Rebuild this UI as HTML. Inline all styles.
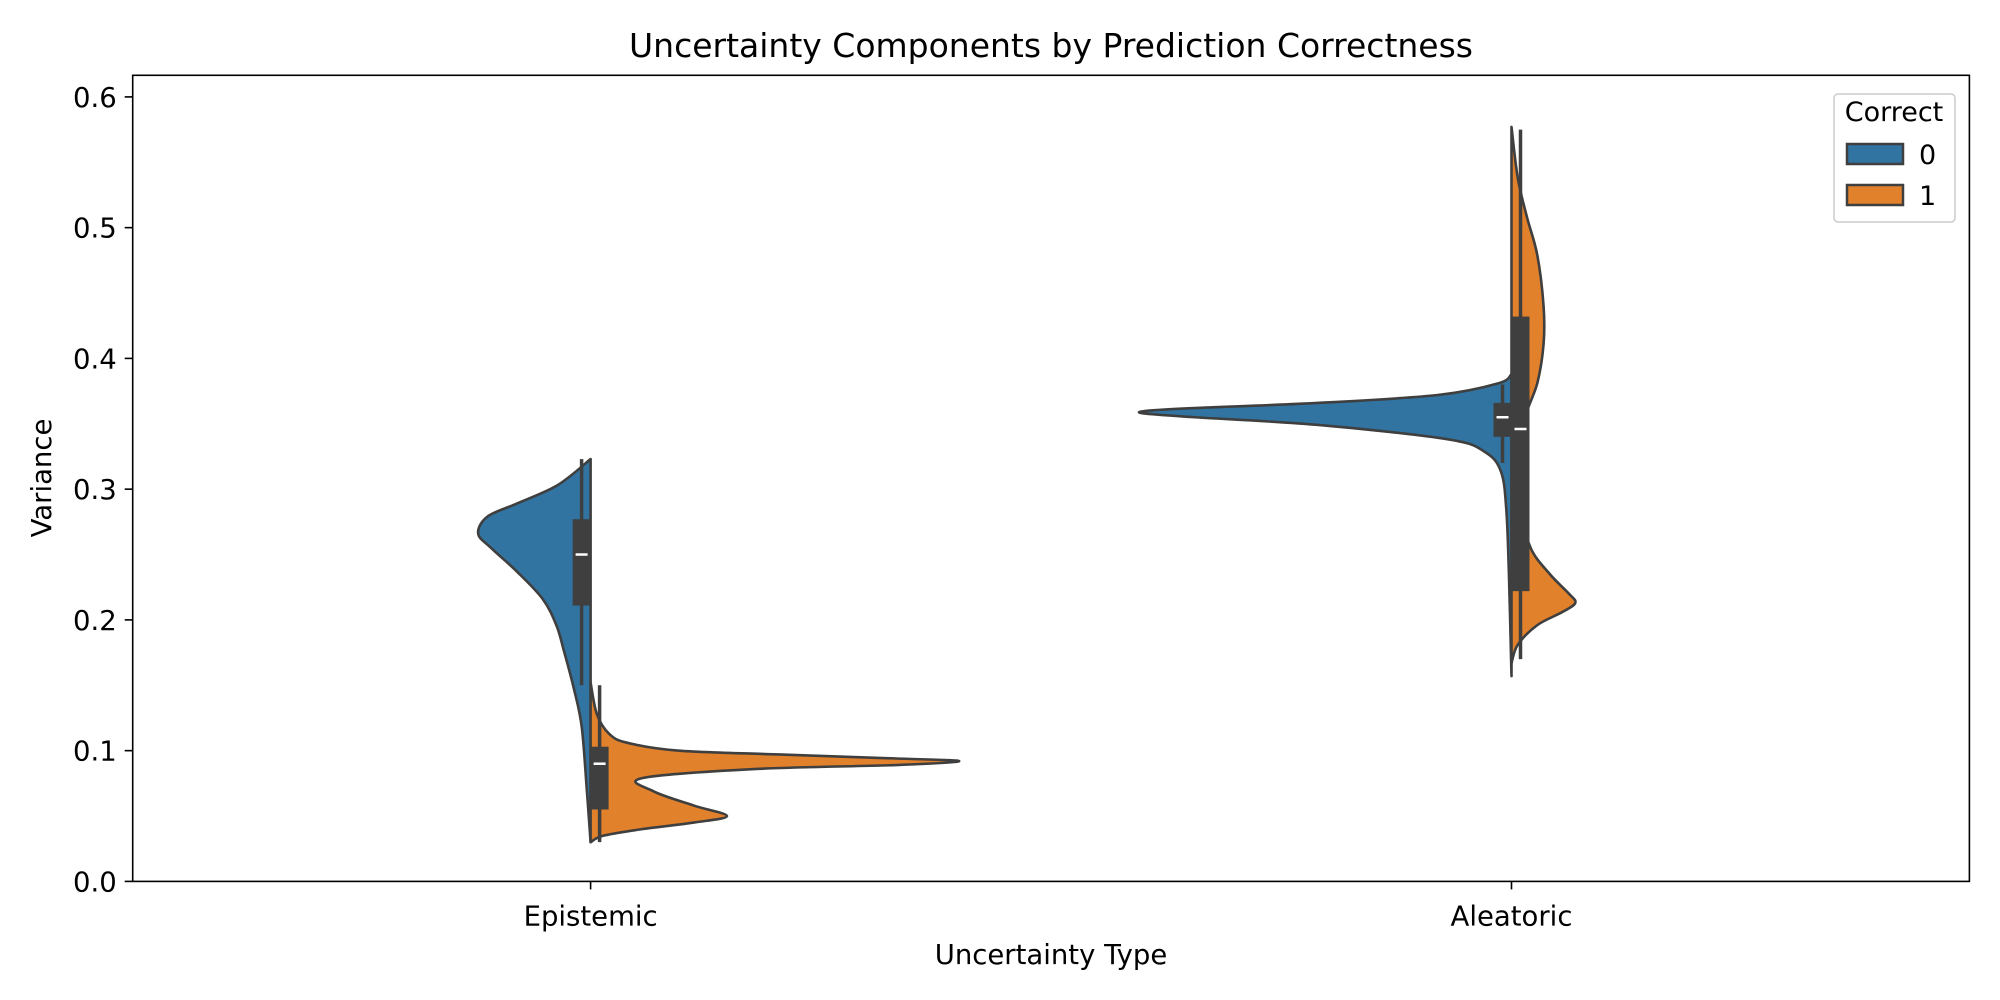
<!DOCTYPE html>
<html><head><meta charset="utf-8"><style>
html,body{margin:0;padding:0;background:#fff}
svg{display:block;font-family:"DejaVu Sans","Liberation Sans",sans-serif}
</style></head><body>
<svg id="chart" width="2000" height="1000" viewBox="0 0 2000 1000">
<text x="1051" y="57" font-size="33" text-anchor="middle" fill="#000">Uncertainty Components by Prediction Correctness</text>
<g id="plot"></g>
<text x="1051" y="964" font-size="27.5" text-anchor="middle">Uncertainty Type</text>
<text x="0" y="0" font-size="27.5" text-anchor="middle" transform="translate(51,478) rotate(-90)">Variance</text>
<g>
<rect x="1834" y="94" width="121" height="128" rx="4" fill="#fff" stroke="#ccc" stroke-width="1.5"/>
<text x="1894" y="121" font-size="27" text-anchor="middle">Correct</text>
<rect x="1847" y="144" width="56" height="20" fill="#3274a1" stroke="#3f3f3f" stroke-width="2.5"/>
<text x="1919" y="164" font-size="27">0</text>
<rect x="1847" y="185" width="56" height="20" fill="#e1812c" stroke="#3f3f3f" stroke-width="2.5"/>
<text x="1919" y="205" font-size="27">1</text>
</g>
</svg>
<script>
const categories = ["Epistemic", "Aleatoric"];
const yTicks = [0.0, 0.1, 0.2, 0.3, 0.4, 0.5, 0.6];
const yTickLabels = ["0.0", "0.1", "0.2", "0.3", "0.4", "0.5", "0.6"];
// violin density profiles: [value, relative density]
const epiCorrect0 = [[0.323,0],[0.303,0.09],[0.289,0.2],[0.279,0.28],[0.266,0.305],[0.255,0.27],[0.237,0.2],[0.216,0.13],[0.196,0.093],[0.177,0.073],[0.147,0.045],[0.118,0.024],[0.069,0.01],[0.030,0]];
const epiCorrect1 = [[0.152,0],[0.128,0.017],[0.113,0.05],[0.106,0.1],[0.100,0.24],[0.097,0.52],[0.094,0.83],[0.092,1.0],[0.089,0.83],[0.086,0.45],[0.079,0.14],[0.069,0.17],[0.058,0.28],[0.050,0.37],[0.045,0.28],[0.040,0.14],[0.035,0.035],[0.030,0]];
const aleCorrect0 = [[0.388,0],[0.381,0.035],[0.372,0.2],[0.366,0.52],[0.362,0.86],[0.360,0.985],[0.358,1.0],[0.355,0.86],[0.349,0.52],[0.338,0.17],[0.328,0.07],[0.313,0.028],[0.284,0.014],[0.235,0.007],[0.157,0]];
const aleCorrect1 = [[0.577,0],[0.538,0.017],[0.508,0.042],[0.479,0.07],[0.440,0.087],[0.411,0.087],[0.381,0.07],[0.352,0.035],[0.323,0.042],[0.284,0.028],[0.255,0.052],[0.235,0.104],[0.220,0.156],[0.213,0.173],[0.206,0.138],[0.196,0.07],[0.181,0.017],[0.167,0]];
// box stats: [whiskerLow, q1, median, q3, whiskerHigh]
const epiBox0 = [0.150, 0.211, 0.250, 0.277, 0.323];
const epiBox1 = [0.030, 0.055, 0.090, 0.103, 0.150];
const aleBox0 = [0.320, 0.340, 0.355, 0.366, 0.380];
const aleBox1 = [0.170, 0.222, 0.346, 0.432, 0.575];

const NS = "http://www.w3.org/2000/svg";
const L = 132.7, R = 1969.4, T = 75.3, B = 881.4;
const yScale = v => B - (v / 0.6) * (B - 96.9);
const xScale = i => 590.6 + i * 920.9;
const maxHalf = 368.6;
const plot = document.getElementById("plot");
function mk(tag, attrs) { const e = document.createElementNS(NS, tag); for (const k in attrs) e.setAttribute(k, attrs[k]); plot.appendChild(e); return e; }

function smooth(pts) {
  let d = "M" + pts[0][0] + "," + pts[0][1];
  for (let i = 0; i < pts.length - 1; i++) {
    const p0 = pts[Math.max(0, i - 1)], p1 = pts[i], p2 = pts[i + 1], p3 = pts[Math.min(pts.length - 1, i + 2)];
    const c1 = [p1[0] + (p2[0] - p0[0]) / 6, p1[1] + (p2[1] - p0[1]) / 6];
    const c2 = [p2[0] - (p3[0] - p1[0]) / 6, p2[1] - (p3[1] - p1[1]) / 6];
    d += "C" + c1 + " " + c2 + " " + p2;
  }
  return d;
}
function violin(ci, prof, side, color, name) {
  const cx = xScale(ci);
  const pts = prof.map(p => [cx + side * p[1] * maxHalf, yScale(p[0])]);
  const d = smooth(pts) + "L" + cx + "," + yScale(prof[prof.length - 1][0]) + "L" + cx + "," + yScale(prof[0][0]) + "Z";
  const e = mk("path", { d: d, fill: color, stroke: "#3f3f3f", "stroke-width": 2.6, "stroke-linejoin": "round" });
  
  
}
function box(ci, s, side, name) {
  const cx = xScale(ci) + side * 9;
  const w = mk("line", { x1: cx, x2: cx, y1: yScale(s[0]), y2: yScale(s[4]), stroke: "#3f3f3f", "stroke-width": 3.5 });
  
  
  const r = mk("rect", { x: cx - 9, width: 18, y: yScale(s[3]), height: yScale(s[1]) - yScale(s[3]), fill: "#3f3f3f" });
  
  
  const m = mk("line", { x1: cx - 6, x2: cx + 6, y1: yScale(s[2]), y2: yScale(s[2]), stroke: "#fff", "stroke-width": 2.5 });
  
  
}
violin(0, epiCorrect0, -1, "#3274a1", "violin-epistemic-0");
violin(0, epiCorrect1, 1, "#e1812c", "violin-epistemic-1");
violin(1, aleCorrect0, -1, "#3274a1", "violin-aleatoric-0");
violin(1, aleCorrect1, 1, "#e1812c", "violin-aleatoric-1");
box(0, epiBox0, -1, "box-epistemic-0");
box(0, epiBox1, 1, "box-epistemic-1");
box(1, aleBox0, -1, "box-aleatoric-0");
box(1, aleBox1, 1, "box-aleatoric-1");

const frame = mk("rect", { x: L, y: T, width: R - L, height: B - T, fill: "none", stroke: "#000", "stroke-width": 1.6 });


yTicks.forEach((v, i) => {
  const y = yScale(v);
  const t = mk("line", { x1: L - 8, x2: L, y1: y, y2: y, stroke: "#000", "stroke-width": 1.6 });
  
  
  const tx = mk("text", { x: L - 16, y: y + 10, "font-size": 27.5, "text-anchor": "end" });
  tx.textContent = yTickLabels[i];
  
  
});
categories.forEach((c, i) => {
  const x = xScale(i);
  const t = mk("line", { x1: x, x2: x, y1: B, y2: B + 8, stroke: "#000", "stroke-width": 1.6 });
  
  
  const tx = mk("text", { x: x, y: B + 44, "font-size": 27.5, "text-anchor": "middle" });
  tx.textContent = c;
  
  
});
</script>
</body></html>
